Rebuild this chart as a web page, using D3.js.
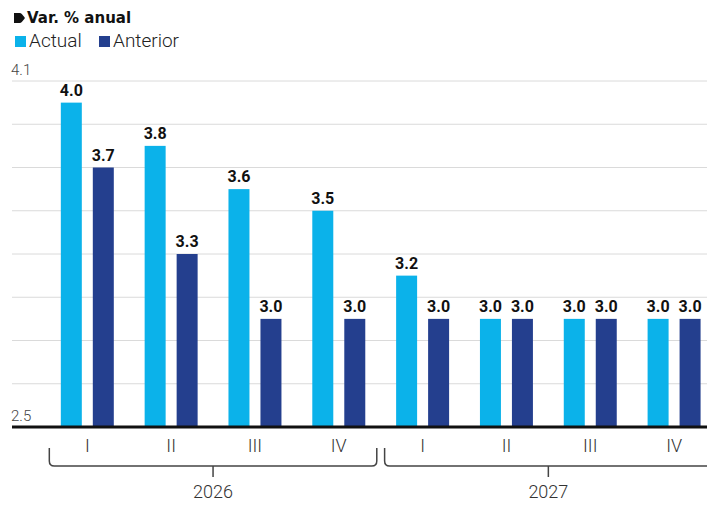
<!DOCTYPE html>
<html>
<head>
<meta charset="utf-8">
<script src="https://cdn.jsdelivr.net/npm/d3@7"></script>
<style>
  html, body { margin: 0; padding: 0; background: #fff; }
  svg { display: block; font-family: "Roboto", "Liberation Sans", sans-serif; }
</style>
</head>
<body>
<svg id="chart"></svg>
<script>
// chart data
const years = ["2026", "2027"];
const quarters = ["I", "II", "III", "IV"];
const actual = [4.0, 3.8, 3.6, 3.5, 3.2, 3.0, 3.0, 3.0];
const anterior = [3.7, 3.3, 3.0, 3.0, 3.0, 3.0, 3.0, 3.0];
const series = ["Actual", "Anterior"];
const colors = ["#0bb2ea", "#243f8e"];
const gridValues = [2.5, 2.7, 2.9, 3.1, 3.3, 3.5, 3.7, 3.9, 4.1];
const yLabels = [2.5, 4.1];

const width = 707;
const height = 506;

const svg = d3.select("#chart")
    .attr("width", width)
    .attr("height", height);

// one key per year/quarter pair
const keys = [];
years.forEach(y => quarters.forEach(q => keys.push(y + "-" + q)));

const x = d3.scaleBand()
    .domain(keys)
    .range([45.4, 716])
    .paddingInner(0.368)
    .paddingOuter(0.184);

const xSub = d3.scaleBand()
    .domain(series)
    .range([0, x.bandwidth()])
    .paddingInner(11 / 32);

const y = d3.scaleLinear()
    .domain([2.5, 4.1])
    .range([427, 81]);

// title + legend
svg.append("path")
    .attr("d", "M14,13 L19.5,13 Q21,13 22,14.3 L24.5,17.2 Q25.2,18 24.5,18.8 L22,21.7 Q21,23 19.5,23 L14,23 Z")
    .attr("fill", "#111");
svg.append("text")
    .attr("x", 27).attr("y", 23)
    .attr("font-family", "'DejaVu Sans', sans-serif")
    .attr("font-size", 15).attr("font-weight", 700)
    .attr("fill", "#111")
    .text("Var. % anual");

const legendX = [15, 99];
series.forEach((s, i) => {
    svg.append("rect")
        .attr("x", legendX[i]).attr("y", 36)
        .attr("width", 11).attr("height", 11)
        .attr("fill", colors[i]);
    svg.append("text")
        .attr("x", legendX[i] + 14).attr("y", 47)
        .attr("font-size", 19).attr("font-weight", 300)
        .attr("fill", "#222")
        .text(s);
});

// grid
svg.append("g")
    .selectAll("line")
    .data(gridValues.slice(1))
    .enter()
    .append("line")
    .attr("x1", 12).attr("x2", width)
    .attr("y1", d => y(d)).attr("y2", d => y(d))
    .attr("stroke", "#dadada")
    .attr("stroke-width", 1);

svg.append("g")
    .selectAll("text")
    .data(yLabels)
    .enter()
    .append("text")
    .attr("x", 11)
    .attr("y", d => y(d) - 6)
    .attr("font-size", 15).attr("font-weight", 300)
    .attr("fill", "#444")
    .text(d => d.toFixed(1));

// bars
const rows = keys.map((k, i) => ({ key: k, values: [actual[i], anterior[i]] }));

const groups = svg.append("g")
    .selectAll("g")
    .data(rows)
    .enter()
    .append("g")
    .attr("transform", d => `translate(${x(d.key)},0)`);

groups.selectAll("rect")
    .data(d => d.values.map((v, j) => ({ s: series[j], v: v, j: j })))
    .enter()
    .append("rect")
    .attr("x", d => xSub(d.s))
    .attr("y", d => y(d.v))
    .attr("width", xSub.bandwidth())
    .attr("height", d => y(2.5) - y(d.v))
    .attr("fill", d => colors[d.j]);

groups.selectAll("text")
    .data(d => d.values.map((v, j) => ({ s: series[j], v: v })))
    .enter()
    .append("text")
    .attr("x", d => xSub(d.s) + xSub.bandwidth() / 2)
    .attr("y", d => y(d.v) - 7)
    .attr("text-anchor", "middle")
    .attr("font-size", 16).attr("font-weight", 700)
    .attr("fill", "#111")
    .text(d => d.v.toFixed(1));

// baseline
svg.append("line")
    .attr("x1", 12).attr("x2", width)
    .attr("y1", y(2.5)).attr("y2", y(2.5))
    .attr("stroke", "#111")
    .attr("stroke-width", 3);

// quarter labels
svg.append("g")
    .selectAll("text")
    .data(keys)
    .enter()
    .append("text")
    .attr("x", d => x(d) + x.bandwidth() / 2)
    .attr("y", 452)
    .attr("text-anchor", "middle")
    .attr("font-size", 18).attr("font-weight", 300)
    .attr("fill", "#333")
    .text(d => d.split("-")[1]);

// year brackets
years.forEach(yr => {
    const first = yr + "-" + quarters[0];
    const last = yr + "-" + quarters[quarters.length - 1];
    const x0 = x(first) + x.bandwidth() / 2 - 38;
    const x1 = x(last) + x.bandwidth() / 2 + 38;
    const mid = (x0 + x1) / 2;
    const r = 5;
    svg.append("path")
        .attr("d", `M${x0},448 V${466 - r} Q${x0},466 ${x0 + r},466 H${x1 - r} Q${x1},466 ${x1},${466 - r} V448 M${mid},466 V477`)
        .attr("fill", "none")
        .attr("stroke", "#444")
        .attr("stroke-width", 1.5);
    svg.append("text")
        .attr("x", mid).attr("y", 498)
        .attr("text-anchor", "middle")
        .attr("font-size", 18).attr("font-weight", 300)
        .attr("fill", "#333")
        .text(yr);
});
</script>
</body>
</html>
